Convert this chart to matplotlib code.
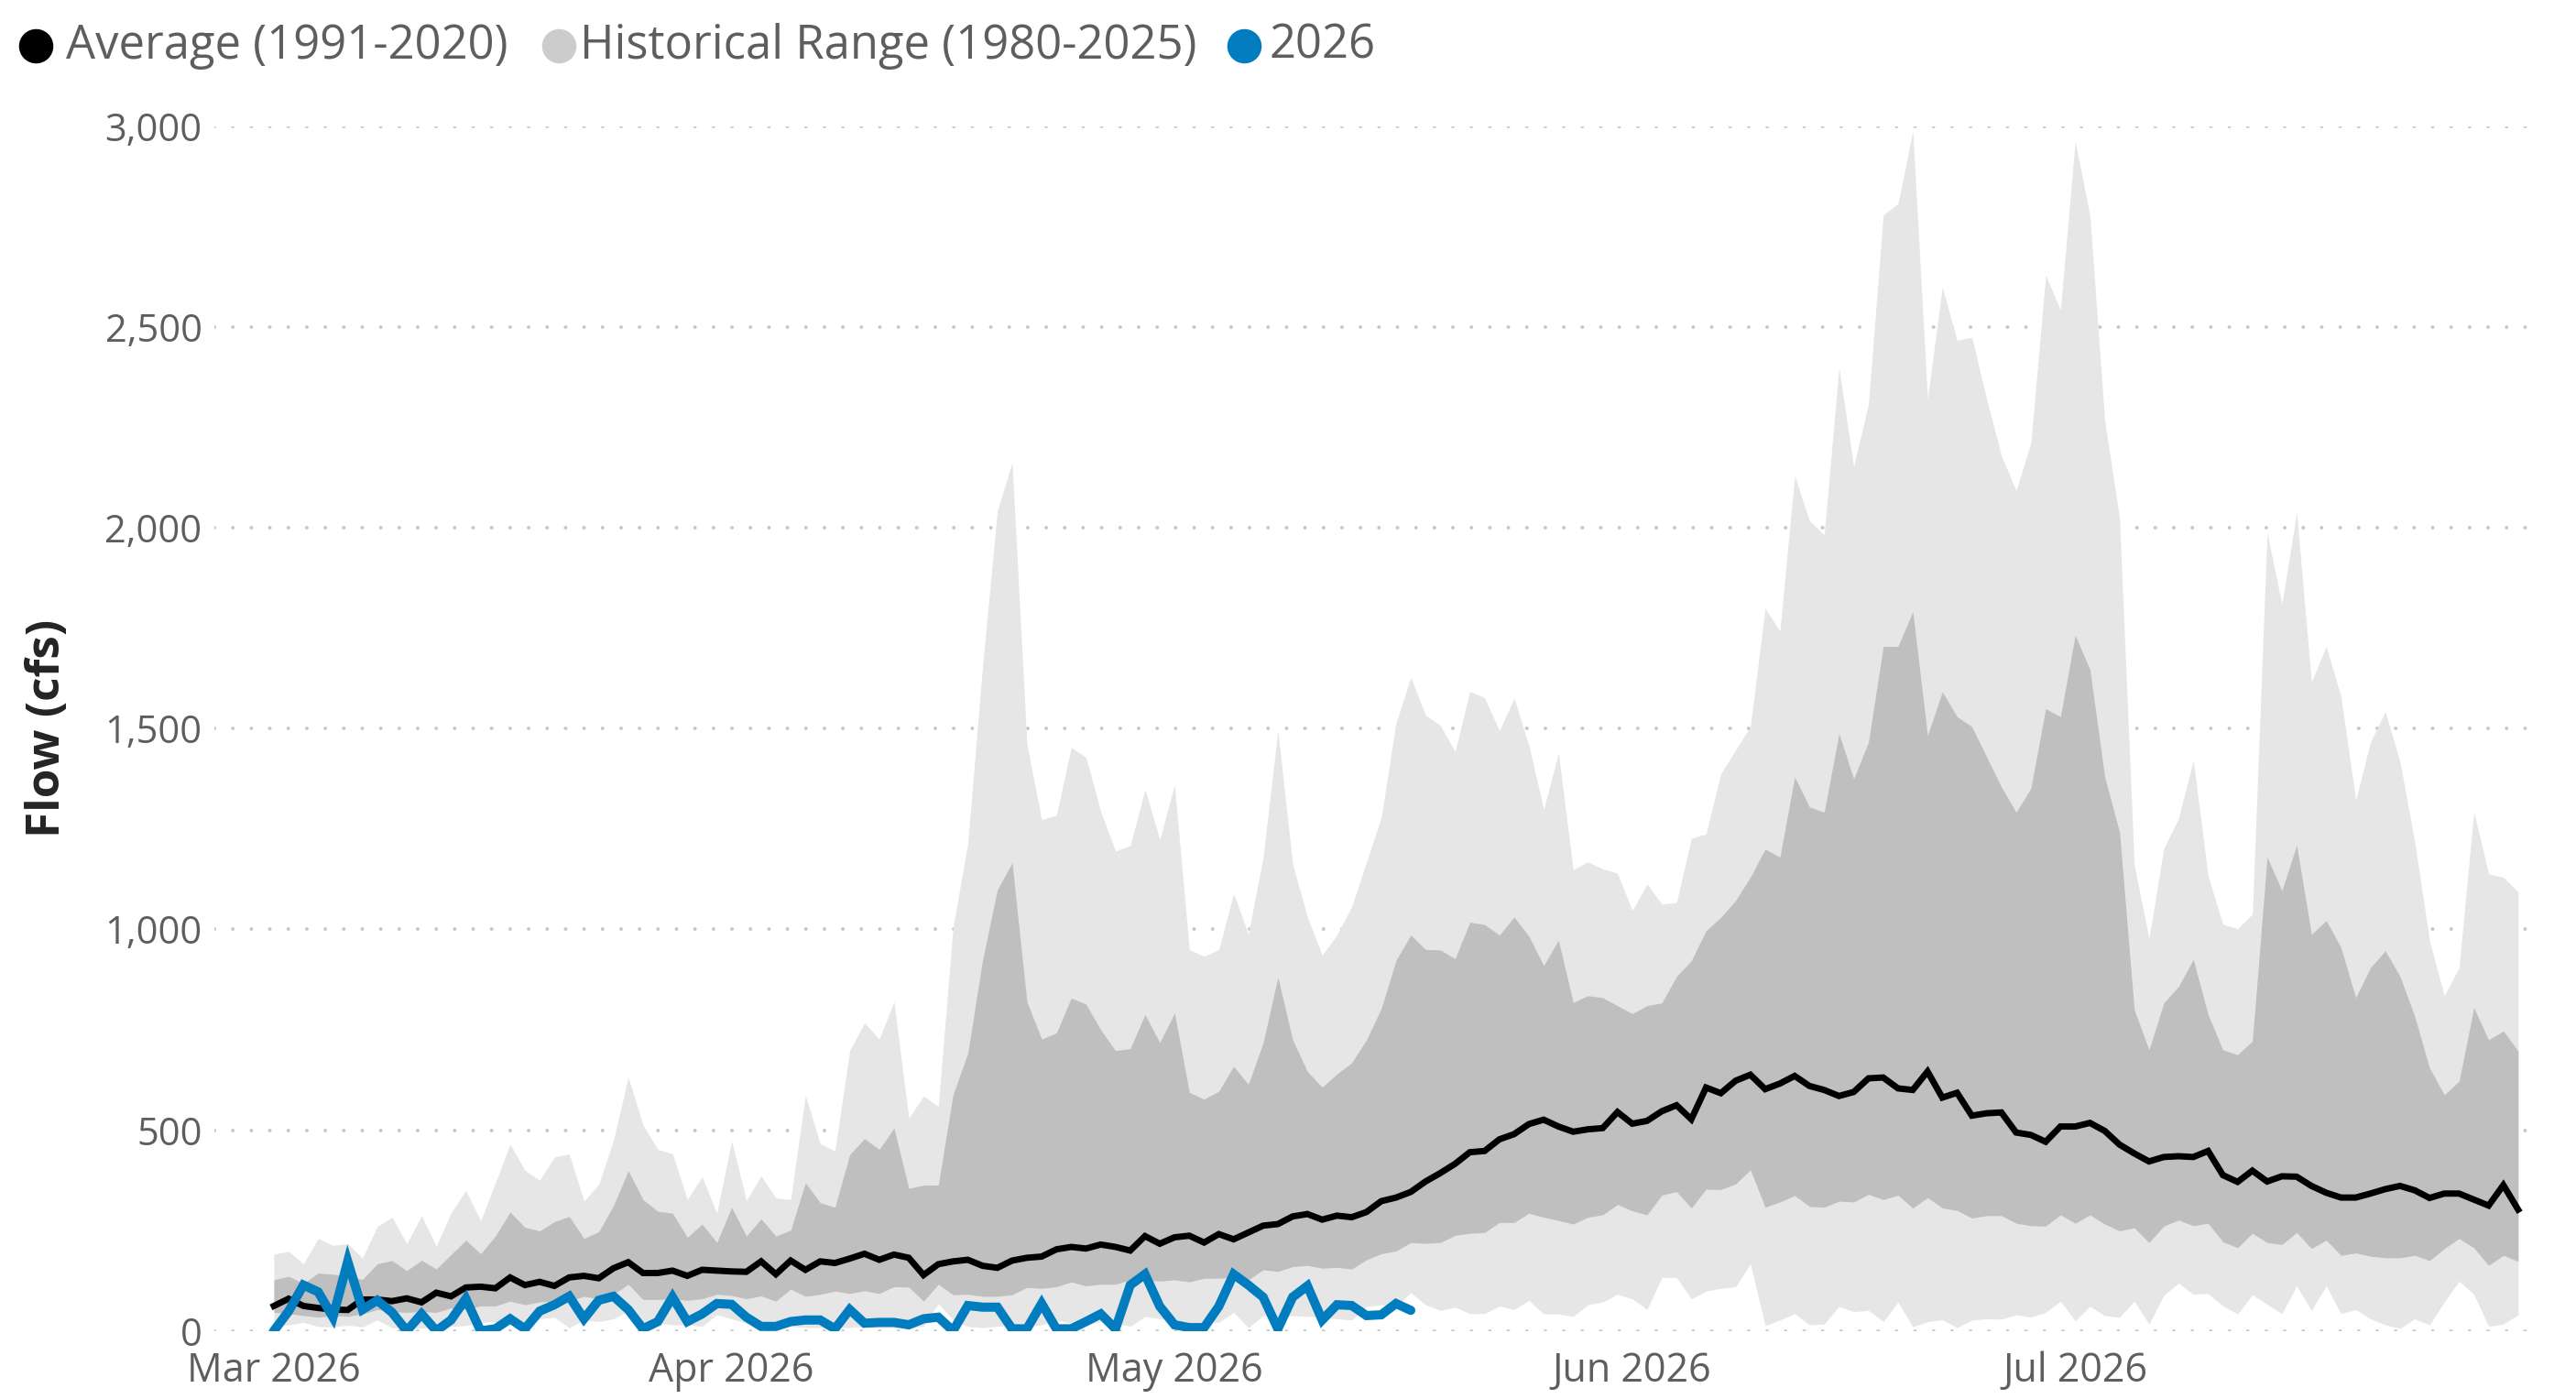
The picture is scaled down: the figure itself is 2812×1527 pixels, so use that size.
import matplotlib
matplotlib.use('Agg')
import matplotlib.pyplot as plt
import matplotlib.dates as mdates
from matplotlib.lines import Line2D
from matplotlib.ticker import FuncFormatter, MultipleLocator
import pandas as pd

plt.rcParams['font.family'] = ['Open Sans', 'DejaVu Sans']

# daily values, 1 Mar .. 31 Jul 2026
dates = pd.date_range('2026-03-01', '2026-07-31', freq='D')

hist_max = [
    191, 198, 167, 230, 213, 217, 181, 260, 283, 217, 287, 211, 294, 350, 274, 369,
    465, 400, 375, 433, 441, 323, 365, 475, 632, 513, 452, 441, 327, 384, 293,
    473, 325, 386, 331, 327, 587, 466, 448, 698, 767, 727, 820, 530, 585, 559,
    1006, 1215, 1657, 2043, 2163, 1462, 1273, 1285, 1453, 1429, 1294, 1195, 1209, 1349, 1224,
    1360, 950, 933, 950, 1090, 988, 1181, 1495, 1162, 1031, 936, 986, 1057, 1168, 1279,
    1514, 1628, 1534, 1508, 1443, 1593, 1577, 1495, 1576, 1458, 1299, 1439, 1149, 1168, 1151, 1140,
    1047, 1113, 1063, 1067, 1227, 1238, 1388, 1447, 1505, 1800, 1743, 2130, 2018, 1983, 2400,
    2152, 2310, 2780, 2808, 2988, 2322, 2600, 2467, 2475, 2322, 2180, 2093, 2213, 2630, 2543,
    2963, 2777, 2268, 2025, 1160, 977, 1202, 1277, 1422, 1133, 1013, 1002, 1038, 1988, 1810,
    2038, 1617, 1705, 1580, 1322, 1467, 1543, 1417, 1217, 972, 835, 905, 1293, 1138, 1130, 1093,
]
hist_hi = [
    127, 136, 118, 144, 141, 137, 128, 167, 175, 150, 176, 154, 190, 226, 192, 236,
    296, 258, 249, 272, 285, 230, 247, 312, 399, 327, 298, 293, 233, 266, 220,
    308, 236, 279, 236, 251, 369, 319, 308, 439, 479, 452, 505, 355, 363, 363,
    589, 692, 924, 1099, 1166, 820, 727, 742, 829, 814, 750, 698, 703, 788, 718,
    792, 594, 577, 597, 659, 614, 718, 881, 725, 646, 607, 640, 668, 725, 803,
    923, 986, 950, 949, 927, 1018, 1012, 986, 1031, 983, 910, 973, 818, 835, 830, 810,
    790, 810, 817, 883, 922, 997, 1030, 1072, 1130, 1200, 1180, 1380, 1305, 1292, 1488,
    1375, 1467, 1705, 1705, 1792, 1483, 1592, 1530, 1505, 1430, 1355, 1292, 1352, 1550, 1530,
    1733, 1647, 1380, 1243, 800, 700, 817, 858, 925, 788, 700, 688, 722, 1180, 1097,
    1210, 988, 1022, 955, 830, 905, 947, 883, 783, 655, 588, 622, 805, 725, 747, 697,
]
hist_lo = [
    46, 43, 38, 34, 38, 36, 42, 53, 48, 46, 48, 46, 57, 53, 62, 62,
    74, 65, 72, 74, 74, 86, 80, 91, 116, 78, 78, 80, 76, 80, 91,
    88, 80, 87, 74, 104, 86, 91, 99, 93, 100, 93, 110, 109, 74, 116,
    90, 91, 86, 86, 90, 108, 106, 110, 122, 112, 116, 116, 127, 127, 124,
    127, 122, 131, 131, 133, 127, 152, 148, 160, 163, 156, 158, 154, 177, 192,
    199, 220, 218, 220, 238, 243, 245, 270, 270, 293, 283, 275, 266, 283, 289, 315,
    299, 289, 338, 347, 306, 353, 352, 366, 401, 308, 321, 337, 310, 308, 323,
    321, 340, 327, 338, 306, 332, 306, 300, 281, 287, 287, 268, 262, 261, 289,
    268, 289, 266, 249, 257, 220, 261, 276, 262, 268, 222, 207, 243, 220, 215,
    245, 205, 226, 188, 194, 186, 182, 182, 188, 175, 205, 230, 207, 163, 188, 173,
]
hist_min = [
    11, 15, 21, 11, 10, 14, 10, 27, 8, 5, 7, 9, 11, 13, 21, 23,
    25, 19, 30, 34, 8, 27, 23, 30, 49, 15, 19, 15, 15, 11, 40,
    30, 19, 11, 11, 11, 8, 8, 8, 8, 11, 8, 8, 8, 11, 68,
    27, 11, 8, 11, 15, 11, 15, 27, 19, 15, 23, 19, 11, 36, 30,
    27, 11, 23, 21, 46, 8, 38, 36, 38, 36, 33, 30, 27, 61, 65,
    61, 95, 65, 51, 59, 43, 43, 62, 53, 76, 42, 42, 36, 65, 72, 91,
    80, 53, 133, 133, 80, 99, 106, 110, 167, 13, 27, 43, 15, 17, 61,
    48, 51, 23, 72, 10, 23, 28, 8, 27, 30, 29, 40, 34, 46, 74,
    25, 61, 38, 34, 74, 17, 89, 119, 91, 93, 62, 42, 90, 66, 43,
    112, 51, 112, 43, 53, 30, 15, 6, 30, 15, 72, 124, 91, 11, 17, 40,
]
avg_1991_2020 = [
    62, 80, 62, 57, 53, 52, 78, 78, 74, 81, 71, 95, 86, 108, 110, 106,
    133, 114, 122, 112, 133, 137, 131, 156, 171, 144, 144, 150, 137, 152, 150,
    148, 147, 173, 141, 175, 152, 173, 169, 180, 192, 177, 190, 182, 139, 166,
    173, 177, 162, 157, 175, 182, 185, 203, 209, 205, 215, 209, 200, 236, 217,
    233, 237, 220, 241, 228, 245, 262, 266, 285, 291, 277, 287, 283, 296, 323,
    332, 346, 372, 393, 416, 445, 448, 477, 490, 515, 526, 509, 496, 502, 505, 545,
    516, 523, 547, 562, 527, 606, 592, 623, 638, 602, 616, 635, 610, 600, 585,
    595, 629, 631, 604, 600, 646, 581, 593, 536, 542, 544, 494, 488, 471, 509,
    509, 518, 498, 464, 442, 422, 433, 435, 433, 448, 388, 371, 399, 372, 385,
    384, 361, 344, 332, 332, 342, 353, 361, 350, 331, 342, 342, 327, 312, 363, 302,
]
# 2026 observed, 1 Mar .. 17 May
flow_2026 = [
    0, 49, 114, 97, 34, 173, 53, 76, 46, 0, 42, 0, 27, 80, 0, 5,
    30, 5, 49, 65, 86, 30, 76, 86, 53, 5, 23, 84, 23, 42, 68,
    66, 34, 11, 11, 23, 27, 27, 5, 53, 19, 21, 21, 15, 30, 34,
    0, 63, 59, 59, 5, 5, 68, 5, 5, 23, 42, 5, 114, 141, 61,
    15, 8, 8, 61, 141, 114, 84, 5, 84, 112, 27, 65, 63, 38, 40,
    68, 51,
]
month_ticks = pd.date_range('2026-03-01', '2026-07-01', freq='MS')

LIGHT = '#E6E6E6'
DARK = '#BFBFBF'
BLUE = '#017DBF'
TXT = '#605E5C'

W, H = 2812, 1527
fig = plt.figure(figsize=(W / 100, H / 100), dpi=100)
ax = fig.add_axes([234.5 / W, 1 - 1452.6 / H, (2773 - 234.5) / W, (1452.6 - 138.1) / H])

ax.fill_between(dates, hist_min, hist_max, color=LIGHT, linewidth=0, zorder=1)
ax.fill_between(dates, hist_lo, hist_hi, color=DARK, linewidth=0, zorder=2)
ax.plot(dates, avg_1991_2020, color='black', linewidth=5, solid_joinstyle='miter', zorder=3)
ax.plot(dates[:len(flow_2026)], flow_2026, color=BLUE, linewidth=7.2,
        solid_joinstyle='miter', solid_capstyle='round', zorder=4)

ax.set_ylim(0, 3000)
ax.set_xlim(dates[0] - pd.Timedelta(days=4), dates[-1] + pd.Timedelta(days=1.5))
ax.yaxis.set_major_locator(MultipleLocator(500))
ax.yaxis.set_major_formatter(FuncFormatter(lambda v, p: f'{int(v):,}'))
ax.set_xticks(month_ticks)
ax.xaxis.set_major_formatter(mdates.DateFormatter('%b %Y'))

ax.yaxis.grid(True, color='#C8C8C8', linestyle=(0, (0.01, 5)), linewidth=2.9,
              dash_capstyle='round', zorder=0)
ax.set_axisbelow(True)
for s in ax.spines.values():
    s.set_visible(False)
ax.tick_params(axis='both', length=0, labelsize=30, labelcolor=TXT)
ax.tick_params(axis='x', pad=16, labelsize=31)
ax.tick_params(axis='y', pad=10)

fig.text(52 / W, 1 - 795 / H, 'Flow (cfs)', rotation=90, ha='center', va='center',
         fontsize=37, fontweight='bold', color='#252423')

# legend row
leg_y = 1 - 50 / H
items = [(39, 72, 'black', 'Average (1991-2020)'),
         (610, 633, '#CCCCCC', 'Historical Range (1980-2025)'),
         (1358, 1386, BLUE, '2026')]
for cx, tx, col, label in items:
    fig.add_artist(Line2D([cx / W], [leg_y], marker='o', markersize=26, color=col,
                          linestyle='none', transform=fig.transFigure))
    fig.text(tx / W, leg_y, label, ha='left', va='center', fontsize=36.5, color=TXT)

fig.savefig('out.png', dpi=100, facecolor='white')
